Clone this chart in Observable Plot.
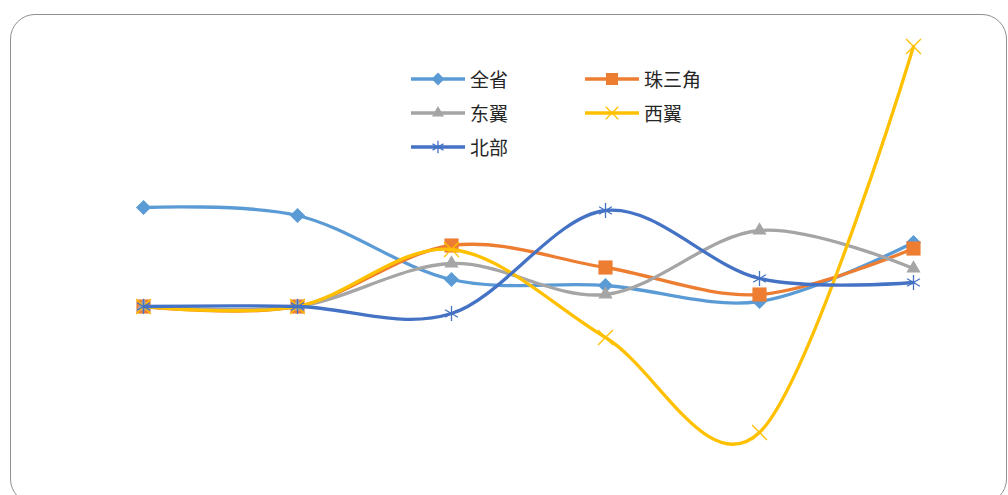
<!DOCTYPE html>
<html>
<head>
<meta charset="utf-8">
<script src="https://cdn.jsdelivr.net/npm/d3@7"></script>
<script src="https://cdn.jsdelivr.net/npm/@observablehq/plot@0.6"></script>
<style>
  html, body { margin: 0; padding: 0; background: #fff; }
  #wrap { position: relative; width: 1008px; height: 495px; overflow: hidden; font-family: "Noto Sans CJK SC", "Noto Sans", sans-serif; }
  #frame { position: absolute; left: 10px; top: 14px; width: 997px; height: 490px; border: 1.5px solid #8f8f8f; border-radius: 25px; box-sizing: border-box; }
  #chart { position: absolute; left: 0; top: 0; }
  #legend { position: absolute; left: 0; top: 0; width: 1008px; height: 200px; pointer-events: none; }
  .item { position: absolute; display: flex; align-items: center; height: 30px; }
  .item span { font-size: 19px; color: #262626; margin-left: 5px; line-height: 30px; }
</style>
</head>
<body>
<div id="wrap">
  <div id="frame"></div>
  <div id="chart"></div>
  <div id="legend"></div>
</div>
<script>
// Categories (no axis labels are shown in the reference)
const categories = ["1", "2", "3", "4", "5", "6"];
const seriesNames = ["全省", "珠三角", "东翼", "西翼", "北部"];
const quanSheng  = [9.9, 9.1, 2.7, 2.1, 0.5, 6.4];
const zhuSanJiao = [0.0, 0.0, 6.1, 3.9, 1.2, 5.8];
const dongYi     = [0.0, 0.0, 4.3, 1.2, 7.6, 3.8];
const xiYi       = [0.0, 0.0, 5.7, -3.1, -12.6, 26.0];
const beiBu      = [0.0, 0.0, -0.7, 9.6, 2.8, 2.4];
const seriesValues = [quanSheng, zhuSanJiao, dongYi, xiYi, beiBu];
const colors = ["#5B9BD5", "#ED7D31", "#A5A5A5", "#FFC000", "#4472C4"];
const symbols = ["diamond2", "square2", "triangle2", "times", "asterisk"];
const radii = [6.8, 9.0, 6.8, 6.8, 7.0];

const rows = seriesNames.flatMap((s, i) =>
  categories.map((c, j) => ({series: s, cat: c, value: seriesValues[i][j]})));

const marks = [];
seriesNames.forEach((s, i) => {
  const d = rows.filter(r => r.series === s);
  marks.push(Plot.line(d, {x: "cat", y: "value", stroke: colors[i], strokeWidth: 3.3, curve: "cardinal"}));
  const filled = i < 3;
  marks.push(Plot.dot(d, filled
    ? {x: "cat", y: "value", symbol: () => symbols[i], r: radii[i], fill: colors[i], stroke: "none"}
    : {x: "cat", y: "value", symbol: () => symbols[i], r: radii[i], fill: "none", stroke: colors[i], strokeWidth: 1.3}));
});

const chart = Plot.plot({
  width: 1008,
  height: 495,
  margin: 0,
  style: {background: "transparent", overflow: "visible"},
  x: {type: "point", domain: categories, range: [143, 913], padding: 0, axis: null},
  y: {domain: [-20, 30], range: [506, 6], axis: null},
  symbol: {type: "identity"},
  marks
});
document.getElementById("chart").appendChild(chart);

// Legend
const legendPos = [[411, 64], [585, 64], [411, 98], [585, 98], [411, 132]];
const symMap = {diamond2: d3.symbolDiamond2, square2: d3.symbolSquare2, triangle2: d3.symbolTriangle2, times: d3.symbolTimes, asterisk: d3.symbolAsterisk};
const legend = d3.select("#legend");
seriesNames.forEach((s, i) => {
  const item = legend.append("div").attr("class", "item")
    .style("left", legendPos[i][0] + "px").style("top", legendPos[i][1] + "px");
  const svg = item.append("svg").attr("width", 54).attr("height", 30);
  svg.append("line").attr("x1", 0).attr("x2", 54).attr("y1", 15).attr("y2", 15)
    .attr("stroke", colors[i]).attr("stroke-width", 3.3);
  const r = radii[i] * 0.85;
  const p = svg.append("path").attr("transform", "translate(27,15)")
    .attr("d", d3.symbol(symMap[symbols[i]], r * r * Math.PI)());
  if (i < 3) p.attr("fill", colors[i]);
  else p.attr("fill", "none").attr("stroke", colors[i]).attr("stroke-width", 1.3);
  item.append("span").text(s);
});
</script>
</body>
</html>
